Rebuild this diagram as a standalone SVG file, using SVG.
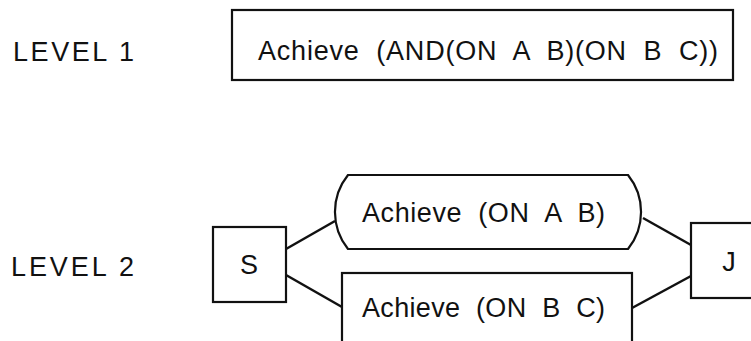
<svg xmlns="http://www.w3.org/2000/svg" width="751" height="341" viewBox="0 0 751 341">
<style>
text{font-family:"Liberation Sans",Arial,sans-serif;font-size:27px;fill:#111;white-space:pre}
.box{fill:#fff;stroke:#111;stroke-width:2.2}
.conn{stroke:#111;stroke-width:2.5;fill:none}
</style>
<rect width="751" height="341" fill="#fff"/>
<g id="label-level1"><text x="13" y="61" textLength="121" lengthAdjust="spacing" xml:space="preserve">LEVEL 1</text></g>
<g id="label-level2"><text x="11" y="276" textLength="123" lengthAdjust="spacing" xml:space="preserve">LEVEL 2</text></g>
<g id="connectors">
<line class="conn" x1="286" y1="249" x2="335" y2="221"/>
<line class="conn" x1="286" y1="275" x2="342" y2="307"/>
<line class="conn" x1="643" y1="218" x2="691" y2="245"/>
<line class="conn" x1="632" y1="308" x2="691" y2="276"/>
</g>
<g id="node-level1">
<rect class="box" x="232" y="10" width="501" height="70"/>
<text x="258" y="60" textLength="460" lengthAdjust="spacing" xml:space="preserve">Achieve  (AND(ON  A  B)(ON  B  C))</text>
</g>
<g id="node-S">
<rect class="box" x="213" y="227" width="73" height="75"/>
<text x="249" y="274" text-anchor="middle">S</text>
</g>
<g id="node-onAB">
<path class="box" d="M348,175 H628 A59,59 0 0 1 628,249 H348 A59,59 0 0 1 348,175 Z"/>
<text x="362" y="222" textLength="243" lengthAdjust="spacing" xml:space="preserve">Achieve  (ON  A  B)</text>
</g>
<g id="node-onBC">
<rect class="box" x="342" y="273" width="290" height="90"/>
<text x="362" y="317" textLength="243" lengthAdjust="spacing" xml:space="preserve">Achieve  (ON  B  C)</text>
</g>
<g id="node-J">
<rect class="box" x="691" y="223" width="80" height="75"/>
<text x="729" y="271" text-anchor="middle">J</text>
</g>
</svg>
